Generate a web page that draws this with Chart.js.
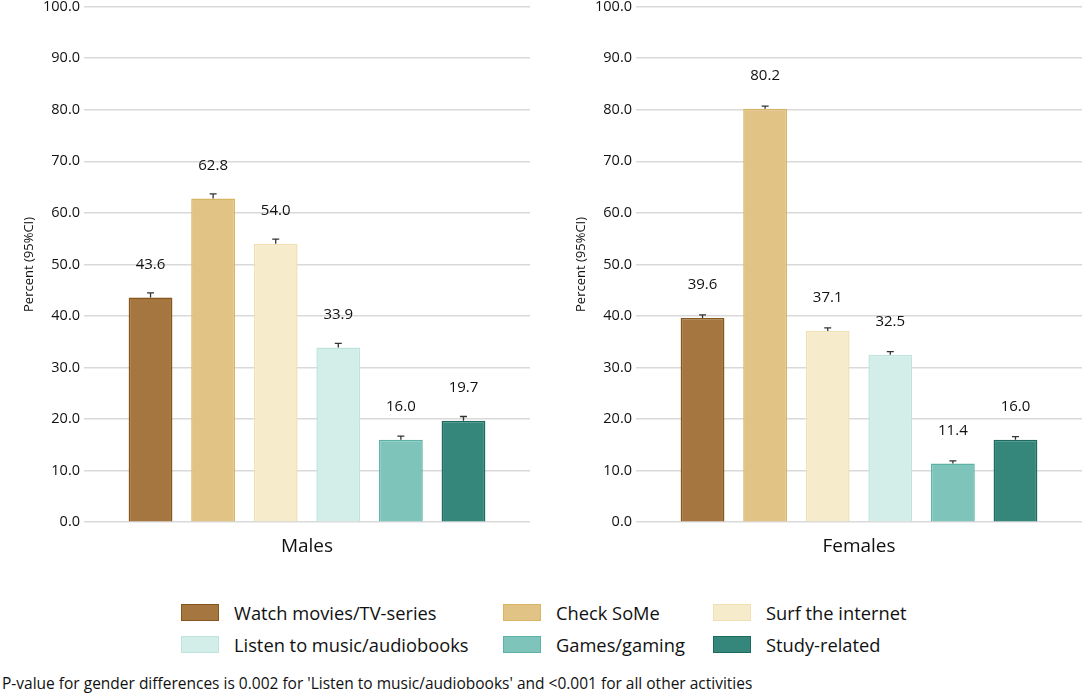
<!DOCTYPE html>
<html>
<head>
<meta charset="utf-8">
<script src="https://cdn.jsdelivr.net/npm/chart.js@4/dist/chart.umd.min.js"></script>
<style>
  html, body { margin: 0; padding: 0; background: #ffffff; }
  body { width: 1084px; height: 696px; position: relative; overflow: hidden; font-family: "Open Sans", sans-serif; color: #111; }
  canvas { position: absolute; top: -6px; }
  #c1 { left: 0px; }
  #c2 { left: 552px; }
  #legend { position: absolute; left: 0; top: 600px; width: 1084px; }
  .item { position: absolute; display: flex; align-items: center; font-size: 18.3px; white-space: nowrap; height: 24px; }
  .sw { width: 36px; height: 15px; border: 1.5px solid; margin-right: 15px; }
  #note { position: absolute; left: 2px; top: 673px; font-size: 15.5px; line-height: 20px; white-space: nowrap; }
</style>
</head>
<body>
<canvas id="c1" width="532" height="577"></canvas>
<canvas id="c2" width="532" height="577"></canvas>
<div id="legend"></div>
<div id="note">P-value for gender differences is 0.002 for 'Listen to music/audiobooks' and &lt;0.001 for all other activities</div>
<script>
// ---- data ----
const activities = ["Watch movies/TV-series", "Check SoMe", "Surf the internet", "Listen to music/audiobooks", "Games/gaming", "Study-related"];
const malesValues = [43.6, 62.8, 54.0, 33.9, 16.0, 19.7];
const malesUpperCI = [44.5, 63.7, 54.9, 34.7, 16.7, 20.5];
const femalesValues = [39.6, 80.2, 37.1, 32.5, 11.4, 16.0];
const femalesUpperCI = [40.2, 80.7, 37.7, 33.1, 11.9, 16.6];
const panelLabels = ["Males", "Females"];
const yAxisTitle = "Percent (95%CI)";

// ---- styles ----
const fillColors = ["#a57640", "#e0c385", "#f6ebcb", "#d3ede9", "#7fc4bb", "#35877c"];
const borderColors = ["#87561c", "#d8b465", "#f0e0b3", "#bfe4de", "#5db2a7", "#1d6a5f"];
const FONT = "'Open Sans', sans-serif";

const barExtras = {
  id: 'barExtras',
  afterDatasetsDraw(chart) {
    const ctx = chart.ctx;
    const yScale = chart.scales.y;
    ctx.save();
    chart.data.datasets.forEach((ds, i) => {
      const meta = chart.getDatasetMeta(i);
      meta.data.forEach((bar, j) => {
        const v = ds.data[j];
        const hi = ds.upperCI[j];
        const yHi = yScale.getPixelForValue(hi);
        ctx.strokeStyle = "#333333";
        ctx.lineWidth = 1.3;
        ctx.beginPath();
        ctx.moveTo(bar.x, bar.y);
        ctx.lineTo(bar.x, yHi);
        ctx.moveTo(bar.x - 3.5, yHi);
        ctx.lineTo(bar.x + 3.5, yHi);
        ctx.stroke();
        ctx.fillStyle = "#111111";
        ctx.font = "15px " + FONT;
        ctx.textAlign = "center";
        ctx.textBaseline = "middle";
        ctx.fillText(v.toFixed(1), bar.x, bar.y - 33);
      });
    });
    ctx.restore();
  }
};

function makeChart(id, label, values, upper) {
  const datasets = activities.map((a, i) => ({
    label: a,
    data: [values[i]],
    upperCI: [upper[i]],
    backgroundColor: fillColors[i],
    borderColor: borderColors[i],
    borderWidth: 1.5,
    categoryPercentage: 0.842,
    barPercentage: 0.70
  }));
  return new Chart(document.getElementById(id), {
    type: 'bar',
    data: { labels: [label], datasets },
    options: {
      responsive: false,
      animation: false,
      devicePixelRatio: 1,
      layout: { padding: { top: 0, right: 2, bottom: 0, left: 0 } },
      plugins: { legend: { display: false }, tooltip: { enabled: false } },
      scales: {
        y: {
          min: 0, max: 100,
          afterFit(scale) { scale.width = 84; },
          ticks: { stepSize: 10, padding: 4, color: "#111", font: { family: FONT, size: 14.5 },
                   callback: v => Number(v).toFixed(1) },
          grid: { color: "#d9d9d9", lineWidth: 1.5, drawTicks: false },
          border: { display: false },
          title: { display: true, text: yAxisTitle, color: "#111", font: { family: FONT, size: 13 },
                   padding: { top: 21, bottom: 0 } }
        },
        x: {
          grid: { display: false, drawTicks: false },
          border: { display: false },
          ticks: { color: "#111", font: { family: FONT, size: 19 }, padding: 13 }
        }
      }
    },
    plugins: [barExtras]
  });
}

makeChart('c1', panelLabels[0], malesValues, malesUpperCI);
makeChart('c2', panelLabels[1], femalesValues, femalesUpperCI);

// ---- HTML legend built from the same arrays ----
const legendPos = [[181, 0], [503, 0], [713, 0], [181, 32], [503, 32], [713, 32]];
const legend = document.getElementById('legend');
activities.forEach((a, i) => {
  const d = document.createElement('div');
  d.className = 'item';
  d.style.left = legendPos[i][0] + 'px';
  d.style.top = legendPos[i][1] + 'px';
  d.innerHTML = '<span class="sw" style="background:' + fillColors[i] + ';border-color:' + borderColors[i] + '"></span>' + a;
  legend.appendChild(d);
});
</script>
</body>
</html>
